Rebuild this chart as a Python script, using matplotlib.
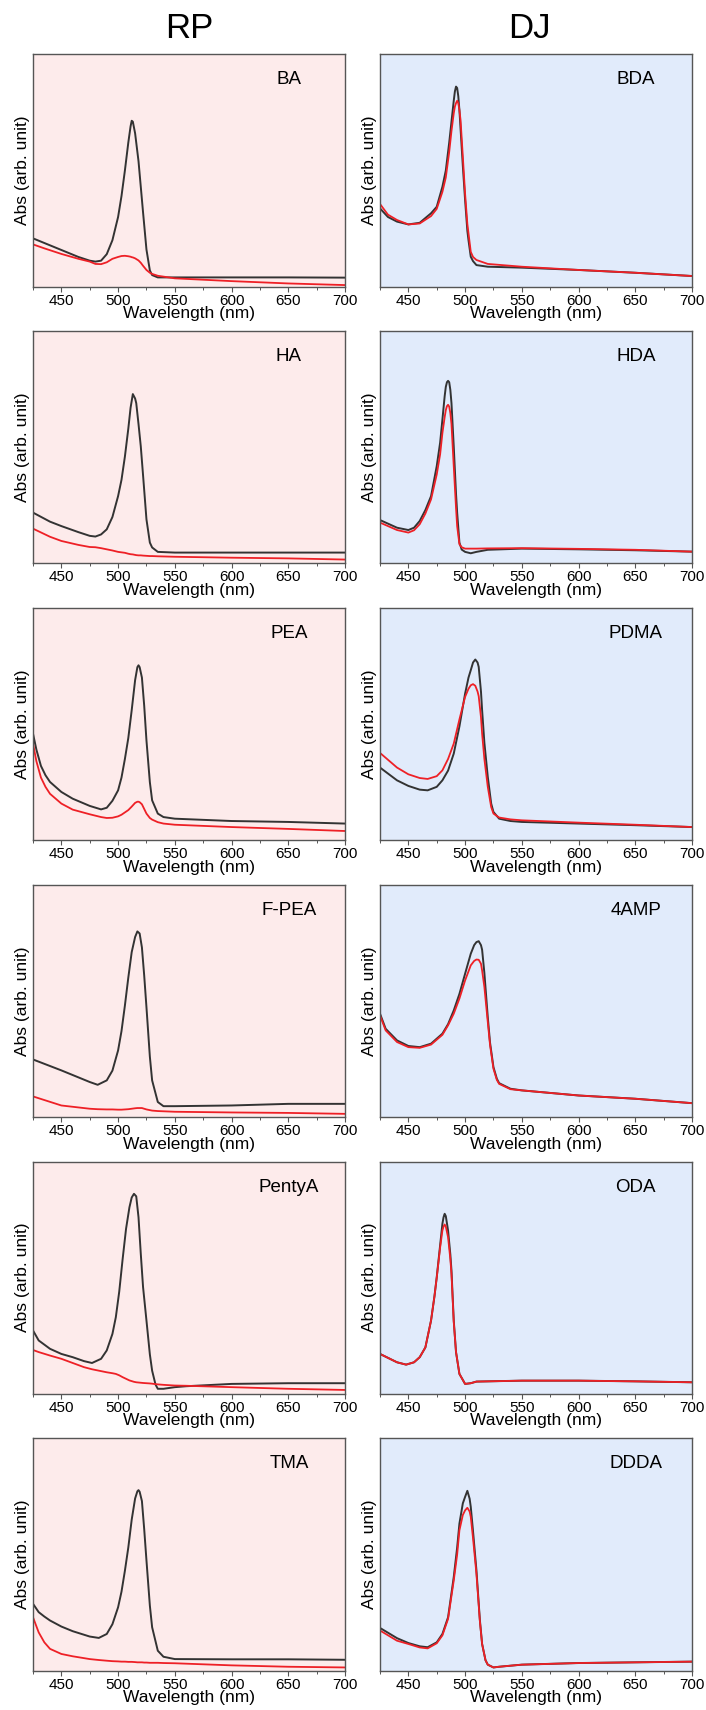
import matplotlib
matplotlib.use("Agg")
import matplotlib.pyplot as plt
from matplotlib.ticker import MultipleLocator

plt.rcParams['font.family'] = ['Liberation Sans', 'DejaVu Sans']

# ---- RP column ----
BA_wl = [425, 435, 450, 465, 475, 480, 485, 490, 495, 500, 503, 506, 509, 511, 512, 513, 515, 518, 520, 522, 525, 528, 530, 535, 550, 600, 650, 700]
BA_black = [0.208, 0.188, 0.158, 0.128, 0.112, 0.108, 0.112, 0.14, 0.20, 0.30, 0.39, 0.50, 0.62, 0.69, 0.714, 0.71, 0.66, 0.54, 0.43, 0.32, 0.16, 0.07, 0.05, 0.04, 0.04, 0.04, 0.04, 0.039]
BA_red = [0.182, 0.165, 0.141, 0.12, 0.108, 0.098, 0.097, 0.105, 0.12, 0.128, 0.132, 0.133, 0.131, 0.129, 0.127, 0.126, 0.122, 0.113, 0.103, 0.09, 0.072, 0.06, 0.055, 0.047, 0.036, 0.024, 0.014, 0.007]

HA_wl = [425, 440, 450, 465, 475, 480, 485, 490, 495, 500, 503, 506, 509, 511, 513, 515, 516, 518, 520, 522, 525, 528, 530, 535, 550, 600, 650, 700]
HA_black = [0.219, 0.18, 0.161, 0.135, 0.119, 0.116, 0.125, 0.147, 0.20, 0.29, 0.36, 0.46, 0.58, 0.67, 0.729, 0.71, 0.69, 0.60, 0.504, 0.38, 0.19, 0.09, 0.069, 0.05, 0.047, 0.047, 0.047, 0.047]
HA_red = [0.15, 0.115, 0.097, 0.08, 0.071, 0.07, 0.066, 0.061, 0.056, 0.05, 0.048, 0.046, 0.042, 0.04, 0.039, 0.037, 0.036, 0.035, 0.035, 0.034, 0.033, 0.032, 0.032, 0.031, 0.029, 0.025, 0.022, 0.017]

PEA_wl = [425, 428, 432, 436, 440, 450, 460, 475, 485, 490, 495, 500, 503, 506, 509, 512, 515, 517, 518, 519, 521, 523, 525, 528, 530, 535, 540, 550, 600, 650, 700]
PEA_black = [0.459, 0.39, 0.32, 0.28, 0.251, 0.208, 0.179, 0.148, 0.133, 0.14, 0.17, 0.215, 0.27, 0.35, 0.44, 0.56, 0.689, 0.745, 0.753, 0.745, 0.70, 0.58, 0.43, 0.25, 0.172, 0.115, 0.10, 0.093, 0.083, 0.079, 0.072]
PEA_red = [0.416, 0.34, 0.27, 0.23, 0.2, 0.158, 0.132, 0.112, 0.1, 0.096, 0.097, 0.103, 0.11, 0.12, 0.13, 0.145, 0.161, 0.166, 0.166, 0.164, 0.155, 0.135, 0.115, 0.096, 0.089, 0.078, 0.072, 0.067, 0.057, 0.049, 0.04]

FPEA_wl = [425, 450, 475, 482, 490, 495, 500, 503, 506, 509, 512, 515, 517, 519, 521, 523, 525, 528, 530, 535, 540, 550, 600, 650, 700]
FPEA_black = [0.248, 0.201, 0.151, 0.139, 0.158, 0.20, 0.287, 0.37, 0.48, 0.60, 0.71, 0.775, 0.799, 0.79, 0.73, 0.61, 0.473, 0.26, 0.158, 0.065, 0.047, 0.047, 0.05, 0.057, 0.057]
FPEA_red = [0.089, 0.05, 0.036, 0.034, 0.033, 0.033, 0.032, 0.032, 0.033, 0.034, 0.036, 0.038, 0.039, 0.039, 0.039, 0.036, 0.033, 0.03, 0.028, 0.026, 0.025, 0.023, 0.02, 0.018, 0.014]

PentyA_wl = [425, 430, 440, 450, 460, 470, 477, 485, 490, 495, 498, 501, 504, 507, 510, 512, 514, 516, 518, 520, 522, 525, 528, 530, 533, 535, 540, 550, 560, 600, 650, 700]
PentyA_black = [0.273, 0.23, 0.194, 0.172, 0.158, 0.141, 0.133, 0.151, 0.187, 0.258, 0.33, 0.44, 0.58, 0.71, 0.803, 0.845, 0.861, 0.85, 0.76, 0.603, 0.46, 0.316, 0.17, 0.1, 0.04, 0.022, 0.022, 0.029, 0.033, 0.043, 0.046, 0.046]
PentyA_red = [0.189, 0.18, 0.165, 0.151, 0.133, 0.115, 0.106, 0.098, 0.093, 0.089, 0.086, 0.08, 0.072, 0.065, 0.058, 0.055, 0.052, 0.05, 0.049, 0.048, 0.047, 0.046, 0.045, 0.044, 0.042, 0.041, 0.039, 0.036, 0.035, 0.029, 0.022, 0.017]

TMA_wl = [425, 430, 435, 440, 450, 460, 475, 483, 490, 495, 500, 503, 506, 509, 512, 515, 517, 518, 519, 521, 523, 525, 528, 530, 535, 540, 550, 600, 650, 700]
TMA_black = [0.288, 0.252, 0.233, 0.216, 0.19, 0.17, 0.147, 0.141, 0.158, 0.2, 0.273, 0.34, 0.43, 0.53, 0.65, 0.741, 0.772, 0.777, 0.77, 0.73, 0.61, 0.475, 0.28, 0.187, 0.086, 0.06, 0.05, 0.049, 0.049, 0.047]
TMA_red = [0.23, 0.165, 0.122, 0.094, 0.072, 0.062, 0.05, 0.046, 0.043, 0.041, 0.04, 0.039, 0.039, 0.038, 0.038, 0.037, 0.036, 0.036, 0.036, 0.036, 0.035, 0.035, 0.034, 0.034, 0.034, 0.033, 0.032, 0.023, 0.017, 0.014]

# ---- DJ column ----
BDA_wl = [425, 432, 440, 450, 460, 470, 475, 480, 483, 486, 488, 490, 491, 492, 493, 494, 495, 496, 498, 500, 502, 503, 505, 507, 510, 520, 550, 600, 650, 700]
BDA_black = [0.337, 0.30, 0.28, 0.268, 0.275, 0.316, 0.344, 0.43, 0.50, 0.62, 0.71, 0.80, 0.84, 0.861, 0.855, 0.82, 0.76, 0.68, 0.52, 0.373, 0.24, 0.2, 0.129, 0.11, 0.093, 0.086, 0.082, 0.072, 0.06, 0.046]
BDA_red = [0.356, 0.31, 0.287, 0.268, 0.272, 0.304, 0.335, 0.408, 0.47, 0.58, 0.67, 0.746, 0.775, 0.79, 0.80, 0.79, 0.76, 0.717, 0.56, 0.40, 0.27, 0.23, 0.15, 0.128, 0.115, 0.098, 0.086, 0.072, 0.06, 0.046]

HDA_wl = [425, 440, 450, 455, 460, 465, 470, 475, 478, 480, 482, 483, 484, 485, 486, 487, 488, 490, 492, 493, 495, 497, 500, 505, 510, 520, 550, 600, 650, 700]
HDA_black = [0.187, 0.154, 0.144, 0.154, 0.183, 0.23, 0.29, 0.419, 0.52, 0.619, 0.72, 0.76, 0.78, 0.786, 0.78, 0.747, 0.69, 0.504, 0.30, 0.219, 0.09, 0.06, 0.05, 0.044, 0.05, 0.059, 0.064, 0.061, 0.057, 0.051]
HDA_red = [0.176, 0.144, 0.133, 0.143, 0.169, 0.215, 0.276, 0.383, 0.47, 0.561, 0.63, 0.66, 0.677, 0.683, 0.675, 0.647, 0.60, 0.419, 0.24, 0.161, 0.083, 0.07, 0.064, 0.064, 0.064, 0.065, 0.066, 0.063, 0.059, 0.051]

PDMA_wl = [425, 440, 450, 460, 467, 475, 480, 485, 490, 495, 500, 503, 505, 507, 509, 511, 512, 514, 515, 517, 520, 523, 525, 530, 540, 550, 600, 650, 700]
PDMA_black = [0.313, 0.258, 0.234, 0.218, 0.215, 0.23, 0.258, 0.30, 0.373, 0.49, 0.631, 0.70, 0.732, 0.765, 0.778, 0.765, 0.746, 0.64, 0.56, 0.42, 0.273, 0.158, 0.122, 0.093, 0.083, 0.079, 0.072, 0.065, 0.057]
PDMA_red = [0.376, 0.313, 0.284, 0.268, 0.264, 0.276, 0.301, 0.35, 0.416, 0.52, 0.617, 0.652, 0.667, 0.672, 0.665, 0.64, 0.62, 0.53, 0.459, 0.35, 0.23, 0.143, 0.115, 0.098, 0.09, 0.086, 0.076, 0.067, 0.057]

AMP_wl = [425, 430, 440, 450, 460, 470, 480, 485, 490, 495, 500, 505, 508, 510, 512, 514, 515, 517, 520, 522, 525, 528, 530, 540, 550, 600, 650, 700]
AMP_black = [0.445, 0.38, 0.33, 0.306, 0.301, 0.316, 0.359, 0.40, 0.459, 0.53, 0.617, 0.703, 0.74, 0.753, 0.757, 0.74, 0.72, 0.62, 0.43, 0.32, 0.215, 0.165, 0.146, 0.122, 0.115, 0.093, 0.079, 0.06]
AMP_red = [0.438, 0.373, 0.323, 0.301, 0.298, 0.312, 0.354, 0.395, 0.445, 0.51, 0.588, 0.653, 0.672, 0.678, 0.677, 0.66, 0.631, 0.56, 0.409, 0.31, 0.208, 0.16, 0.143, 0.12, 0.115, 0.093, 0.079, 0.06]

ODA_wl = [425, 440, 448, 455, 460, 465, 470, 473, 475, 478, 480, 481, 482, 483, 485, 487, 488, 490, 492, 495, 500, 505, 510, 550, 600, 650, 700]
ODA_black = [0.172, 0.136, 0.126, 0.136, 0.158, 0.2, 0.316, 0.42, 0.502, 0.64, 0.732, 0.76, 0.775, 0.765, 0.703, 0.60, 0.531, 0.316, 0.18, 0.086, 0.043, 0.046, 0.053, 0.057, 0.057, 0.054, 0.05]
ODA_red = [0.172, 0.136, 0.126, 0.136, 0.158, 0.2, 0.316, 0.42, 0.50, 0.63, 0.703, 0.72, 0.729, 0.72, 0.674, 0.58, 0.516, 0.31, 0.18, 0.086, 0.043, 0.046, 0.053, 0.057, 0.057, 0.054, 0.05]

DDDA_wl = [425, 440, 450, 460, 467, 475, 480, 485, 490, 493, 495, 498, 500, 502, 504, 505, 507, 510, 513, 515, 518, 520, 525, 530, 550, 600, 650, 700]
DDDA_black = [0.184, 0.14, 0.119, 0.105, 0.101, 0.122, 0.158, 0.23, 0.403, 0.53, 0.633, 0.72, 0.748, 0.774, 0.74, 0.705, 0.60, 0.432, 0.22, 0.115, 0.045, 0.026, 0.014, 0.017, 0.026, 0.033, 0.036, 0.039]
DDDA_red = [0.173, 0.129, 0.115, 0.1, 0.096, 0.118, 0.152, 0.223, 0.388, 0.50, 0.604, 0.67, 0.69, 0.701, 0.685, 0.662, 0.57, 0.417, 0.215, 0.115, 0.045, 0.026, 0.014, 0.017, 0.026, 0.033, 0.036, 0.039]

rp_names = ['BA', 'HA', 'PEA', 'F-PEA', 'PentyA', 'TMA']
rp_data = [(BA_wl, BA_black, BA_red), (HA_wl, HA_black, HA_red), (PEA_wl, PEA_black, PEA_red),
           (FPEA_wl, FPEA_black, FPEA_red), (PentyA_wl, PentyA_black, PentyA_red), (TMA_wl, TMA_black, TMA_red)]
dj_names = ['BDA', 'HDA', 'PDMA', '4AMP', 'ODA', 'DDDA']
dj_data = [(BDA_wl, BDA_black, BDA_red), (HDA_wl, HDA_black, HDA_red), (PDMA_wl, PDMA_black, PDMA_red),
           (AMP_wl, AMP_black, AMP_red), (ODA_wl, ODA_black, ODA_red), (DDDA_wl, DDDA_black, DDDA_red)]

W, H = 706, 1710
fig = plt.figure(figsize=(W / 100, H / 100), dpi=100)

pink = '#fdebeb'
blue = '#e1ebfb'
col_left = [33, 380]
ax_w, ax_h = 312, 232.4
row_top0, row_step = 54.3, 276.8

for c, (names, data, bg) in enumerate([(rp_names, rp_data, pink), (dj_names, dj_data, blue)]):
    for r in range(6):
        top = row_top0 + r * row_step
        ax = fig.add_axes([col_left[c] / W, 1 - (top + ax_h) / H, ax_w / W, ax_h / H])
        ax.set_facecolor(bg)
        wl, blk, red = data[r]
        ax.plot(wl, blk, color='#333333', lw=1.4, solid_joinstyle='round')
        ax.plot(wl, red, color='#ee2026', lw=1.3, solid_joinstyle='round')
        ax.set_xlim(425, 700)
        ax.set_ylim(0, 1)
        ax.set_yticks([])
        ax.xaxis.set_major_locator(MultipleLocator(50))
        ax.xaxis.set_minor_locator(MultipleLocator(25))
        ax.tick_params(axis='x', which='major', direction='out', length=3.5, width=0.8,
                       colors='#555555', labelcolor='black', labelsize=11, pad=1.5)
        ax.tick_params(axis='x', which='minor', direction='out', length=2, width=0.7, colors='#555555')
        for s in ax.spines.values():
            s.set_color('#555555')
            s.set_linewidth(1.0)
        ax.set_xlabel('Wavelength (nm)', fontsize=12.5, labelpad=-1)
        ax.set_ylabel('Abs (arb. unit)', fontsize=12.5, labelpad=2)
        ax.text(0.82, 0.89, names[r], transform=ax.transAxes, ha='center', va='center', fontsize=13.5)

fig.text(189 / W, 1 - 28 / H, 'RP', ha='center', va='center', fontsize=25)
fig.text(529 / W, 1 - 28 / H, 'DJ', ha='center', va='center', fontsize=25)

fig.savefig('out.png', dpi=100)
